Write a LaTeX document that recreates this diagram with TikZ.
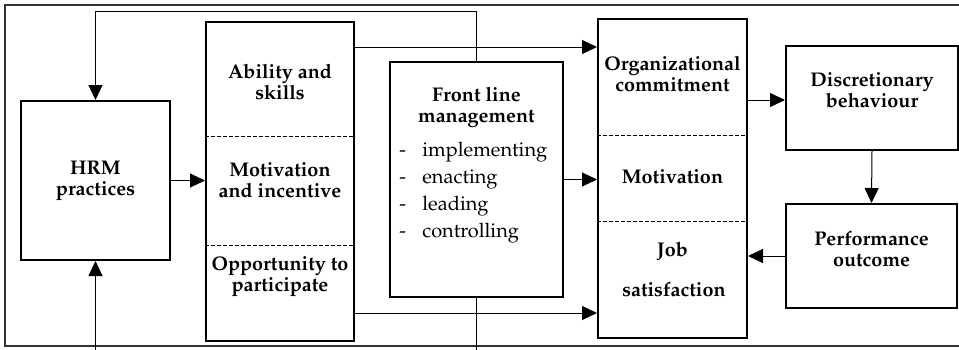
\documentclass[tikz,border=0pt]{standalone}
\usepackage[T1]{fontenc}
\usepackage{mathpazo}
\usetikzlibrary{arrows.meta}

\begin{document}
\begin{tikzpicture}[x=0.5pt,y=-0.5pt,
    box/.style={draw,line width=1pt,inner sep=0pt},
    lbl/.style={align=center,inner sep=0pt,font=\fontsize{9.9}{10.5}\selectfont\bfseries},
    item/.style={anchor=west,inner sep=0pt,font=\fontsize{10}{12}\selectfont},
    arr/.style={line width=0.5pt,-{Triangle[length=7.5pt,width=7pt]}},
    sep/.style={line width=0.5pt,dash pattern=on 2pt off 1pt}]
        \useasboundingbox (0,0) rectangle (959,349);
        \draw[line width=0.6pt,black!80] (959,5)--(5,5)--(5,346)--(959,346);
        % boxes
        \node[box,minimum width=74.5pt,minimum height=79.5pt,lbl] (hrm) at (95.5,180.5) {HRM\\practices};
        \node[box,minimum width=74pt,minimum height=159.5pt] (amo) at (280,181.5) {};
        \node[box,minimum width=86.5pt,minimum height=117.5pt] (flm) at (476.5,179.5) {};
        \node[box,minimum width=74.5pt,minimum height=159.5pt] (out) at (672.5,178.5) {};
        \node[box,minimum width=86pt,minimum height=52pt] (dis) at (872,98) {};
        \node[box,minimum width=85.5pt,minimum height=52pt] (per) at (871.5,256) {};
        \draw[sep] (amo.west |- 0,136)--(amo.east |- 0,136);
        \draw[sep] (amo.west |- 0,245)--(amo.east |- 0,245);
        \draw[sep] (out.west |- 0,135)--(out.east |- 0,135);
        \draw[sep] (out.west |- 0,221)--(out.east |- 0,221);
        % texts
        \node[lbl] (abil) at (280,82) {Ability and\\skills};
        \node[lbl] (moti) at (280,180) {Motivation\\and incentive};
        \node[lbl] (oppo) at (280,277) {Opportunity to\\participate};
        \node[lbl] (flmt) at (476.5,107) {Front line\\management};
        \foreach \itm [count=\i] in {implementing,enacting,leading,controlling}
            \node[item] (fl\i) at (399,125+27*\i) {\makebox[11.5pt][l]{-}\itm};
        \node[lbl] (orgc) at (672.5,73.5) {Organizational\\commitment};
        \node[lbl] (omot) at (672.5,177) {Motivation};
        \node[lbl] (job) at (672.5,252) {Job};
        \node[lbl] (sat) at (674,289) {satisfaction};
        \node[lbl] (dist) at (872,90.5) {Discretionary\\behaviour};
        \node[lbl] (pert) at (871.5,248.5) {Performance\\outcome};
        % connectors
        \draw[arr] (hrm.east)--(hrm.east -| amo.west);
        \draw[arr] (amo.east |- 0,47)--(out.west |- 0,47);
        \draw[arr] (amo.east |- 0,313)--(out.west |- 0,313);
        \draw[arr] (flm.east)--(flm.east -| out.west);
        \draw[arr] (out.east |- 0,100)--(dis.west |- 0,100);
        \draw[arr] (dis.south)--(per.north);
        \draw[arr] (per.west)--(per.west -| out.east);
        \draw[arr] (flm.north)--(flm.north |- 0,11) -| (hrm.north);
        \draw[arr] (flm.south)--(flm.south |- 0,362) -| (hrm.south);
\end{tikzpicture}
\end{document}
